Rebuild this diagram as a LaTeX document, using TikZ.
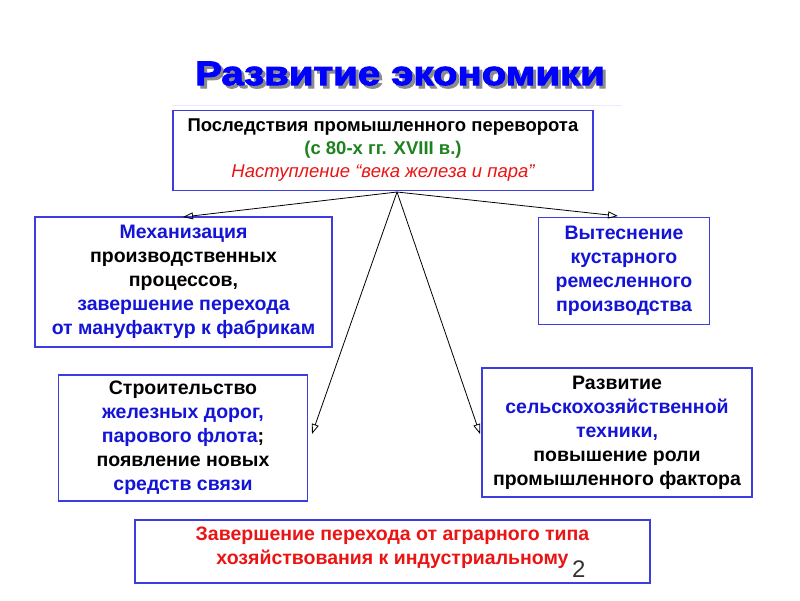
\documentclass[tikz,border=0pt]{standalone}
\usepackage{fontspec}
\setmainfont{Liberation Sans}
\newfontfamily\titlefont[FakeBold=3,FakeStretch=1.18]{Liberation Sans}
\usetikzlibrary{arrows.meta}
\definecolor{bord}{RGB}{60,60,225}
\definecolor{tblue}{RGB}{20,20,215}
\definecolor{tgreen}{RGB}{30,130,30}
\definecolor{tred}{RGB}{235,20,20}
\definecolor{ttl}{RGB}{0,0,255}
\tikzset{
  box/.style={draw=bord, line width=1.6pt, fill=white, inner sep=0pt, align=center,
    font=\fontsize{19.5}{24}\selectfont\bfseries},
  boxtext/.style={inner sep=0pt, align=center, font=\fontsize{19.5}{24}\selectfont\bfseries},
  arr/.style={draw=black, line width=0.8pt, -{Triangle[open,length=10pt,width=7pt]}},
}
\begin{document}
\begin{tikzpicture}[x=1pt,y=-1pt]
\useasboundingbox (0,0) rectangle (800,600);
\fill[white] (0,0) rectangle (800,600);
% title with shadow (single text)
\node[font=\fontsize{34}{40}\titlefont\bfseries] (title) at (400,75)
 {\rlap{\hspace{3pt}\raisebox{-3pt}{\textcolor{black!45}{Развитие экономики}}}\textcolor{ttl}{Развитие экономики}};
\draw[blue!8, line width=0.8pt] (172,105) -- (622,105);
% top box
\node[box, minimum width=420, minimum height=80, font=\fontsize{18.5}{23}\selectfont] (top) at (383,150.5)
 {\textbf{Последствия промышленного переворота}\\
  \textcolor{tgreen}{\textbf{(с 80-х гг. XVIII в.)}}\\
  \textcolor{tred}{\itshape Наступление “века железа и пара”}};
% left box
\node[box, minimum width=297, minimum height=130] (mech) at (183.5,282)
 {\textcolor{tblue}{Механизация}\\
  производственных\\
  процессов,\\
  \textcolor{tblue}{завершение перехода}\\
  \textcolor{tblue}{от мануфактур к фабрикам}};
% right box
\node[box, minimum width=171, minimum height=107] (vyt) at (624,271)
 {\textcolor{tblue}{Вытеснение}\\
  \textcolor{tblue}{кустарного}\\
  \textcolor{tblue}{ремесленного}\\
  \textcolor{tblue}{производства}};
% construction box
\node[box, minimum width=249, minimum height=126] (stroi) at (183,438)
 {Строительство\\
  \textcolor{tblue}{железных дорог,}\\
  \textcolor{tblue}{парового флота};\\
  появление новых\\
  \textcolor{tblue}{средств связи}};
% agriculture box
\node[box, minimum width=270, minimum height=129] (agro) at (617,432.5)
 {Развитие\\
  \textcolor{tblue}{сельскохозяйственной}\\
  \textcolor{tblue}{техники,}\\
  повышение роли\\
  промышленного фактора};
% bottom box
\node[box, minimum width=515, minimum height=63] (final) at (392.5,551.5) {};
\node[boxtext, yshift=4pt] (finaltext) at (final.center)
 {\textcolor{tred}{Завершение перехода от аграрного типа}\\
  \textcolor{tred}{хозяйствования к индустриальному}};
\node[font=\fontsize{24}{26}\selectfont, text=black!80, anchor=base west, inner sep=0pt] (pnum) at (572,577) {2};
% arrows
\coordinate (src) at (397,192);
\coordinate (t1) at (183,217);
\coordinate (t2) at (618,216);
\coordinate (t3) at (312,434);
\coordinate (t4) at (480,434);
\draw[arr] (src) -- (t1);
\draw[arr] (src) -- (t2);
\draw[arr] (src) -- (t3);
\draw[arr] (src) -- (t4);
\end{tikzpicture}
\end{document}
